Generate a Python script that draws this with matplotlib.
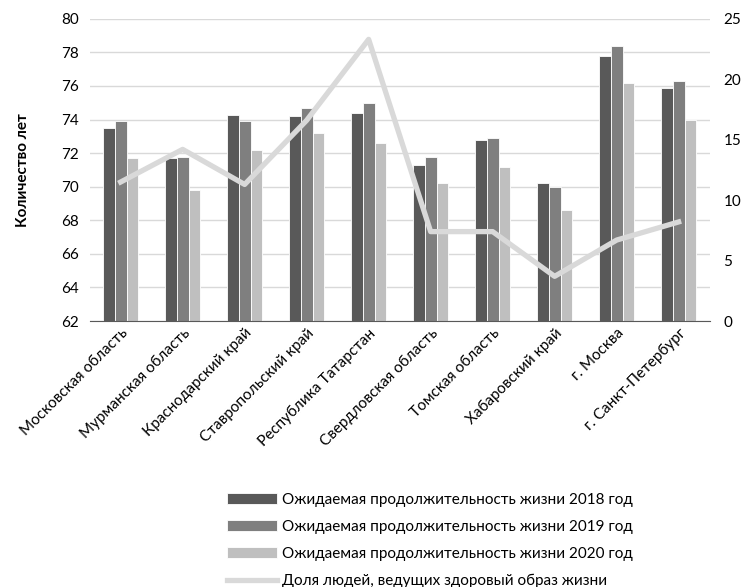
import matplotlib
matplotlib.use("Agg")
import matplotlib.pyplot as plt
import numpy as np

categories = ["Московская область", "Мурманская область", "Краснодарский край",
              "Ставропольский край", "Республика Татарстан", "Свердловская область",
              "Томская область", "Хабаровский край", "г. Москва", "г. Санкт-Петербург"]
le2018 = [73.5, 71.7, 74.3, 74.2, 74.4, 71.3, 72.8, 70.2, 77.8, 75.9]
le2019 = [73.9, 71.8, 73.9, 74.7, 75.0, 71.8, 72.9, 70.0, 78.4, 76.3]
le2020 = [71.7, 69.8, 72.2, 73.2, 72.6, 70.2, 71.2, 68.6, 76.2, 74.0]
healthy = [11.5, 14.2, 11.3, 16.6, 23.3, 7.4, 7.4, 3.7, 6.7, 8.2]

labels = ["Ожидаемая продолжительность жизни 2018 год",
          "Ожидаемая продолжительность жизни 2019 год",
          "Ожидаемая продолжительность жизни 2020 год",
          "Доля людей, ведущих здоровый образ жизни"]

plt.rcParams['font.family'] = ['Lato', 'DejaVu Sans']

fig = plt.figure(figsize=(7.47, 5.87), dpi=100)
ax = fig.add_axes([0.12, 0.453, 0.83, 0.515])
ax2 = ax.twinx()

x = np.arange(len(categories))
w = 0.19
cols = ["#595959", "#7f7f7f", "#bfbfbf"]
bars = []
for i, (vals, c) in enumerate(zip([le2018, le2019, le2020], cols)):
    b = ax.bar(x + (i - 1) * w, vals, w, color=c, edgecolor="white", linewidth=0.6,
               label=labels[i], zorder=2)
    bars.append(b)

fs = 11
ax.set_ylim(62, 80)
ax.set_yticks(np.arange(62, 81, 2))
ax.set_xlim(-0.5, len(categories) - 0.5)
ax.grid(axis="y", color="#d9d9d9", linewidth=1, zorder=0)
ax.set_axisbelow(True)
for s in ["top", "left", "right"]:
    ax.spines[s].set_visible(False)
ax.spines["bottom"].set_color("#595959")
ax.tick_params(axis="both", length=0, labelsize=fs, colors="black")
ax.tick_params(axis="y", pad=8)
ax.set_xticks(x)
ax.set_xticklabels(categories, rotation=45, ha="right", rotation_mode="anchor", fontsize=fs)
ax.set_ylabel("Количество лет", fontsize=fs, fontweight="bold", labelpad=22)

line, = ax2.plot(x, healthy, color="#d9d9d9", linewidth=3.8, label=labels[3],
                 solid_joinstyle="round", zorder=3)
ax2.set_ylim(0, 25)
ax2.set_yticks(np.arange(0, 26, 5))
for s in ["top", "left", "right", "bottom"]:
    ax2.spines[s].set_visible(False)
ax2.tick_params(axis="y", length=0, labelsize=fs, pad=10)

handles = bars + [line]
fig.legend(handles, labels, loc="lower left", bbox_to_anchor=(0.285, -0.025),
           frameon=False, fontsize=fs, handlelength=3.3, labelspacing=0.85,
           handletextpad=0.3)

fig.savefig("out.png", dpi=100)
